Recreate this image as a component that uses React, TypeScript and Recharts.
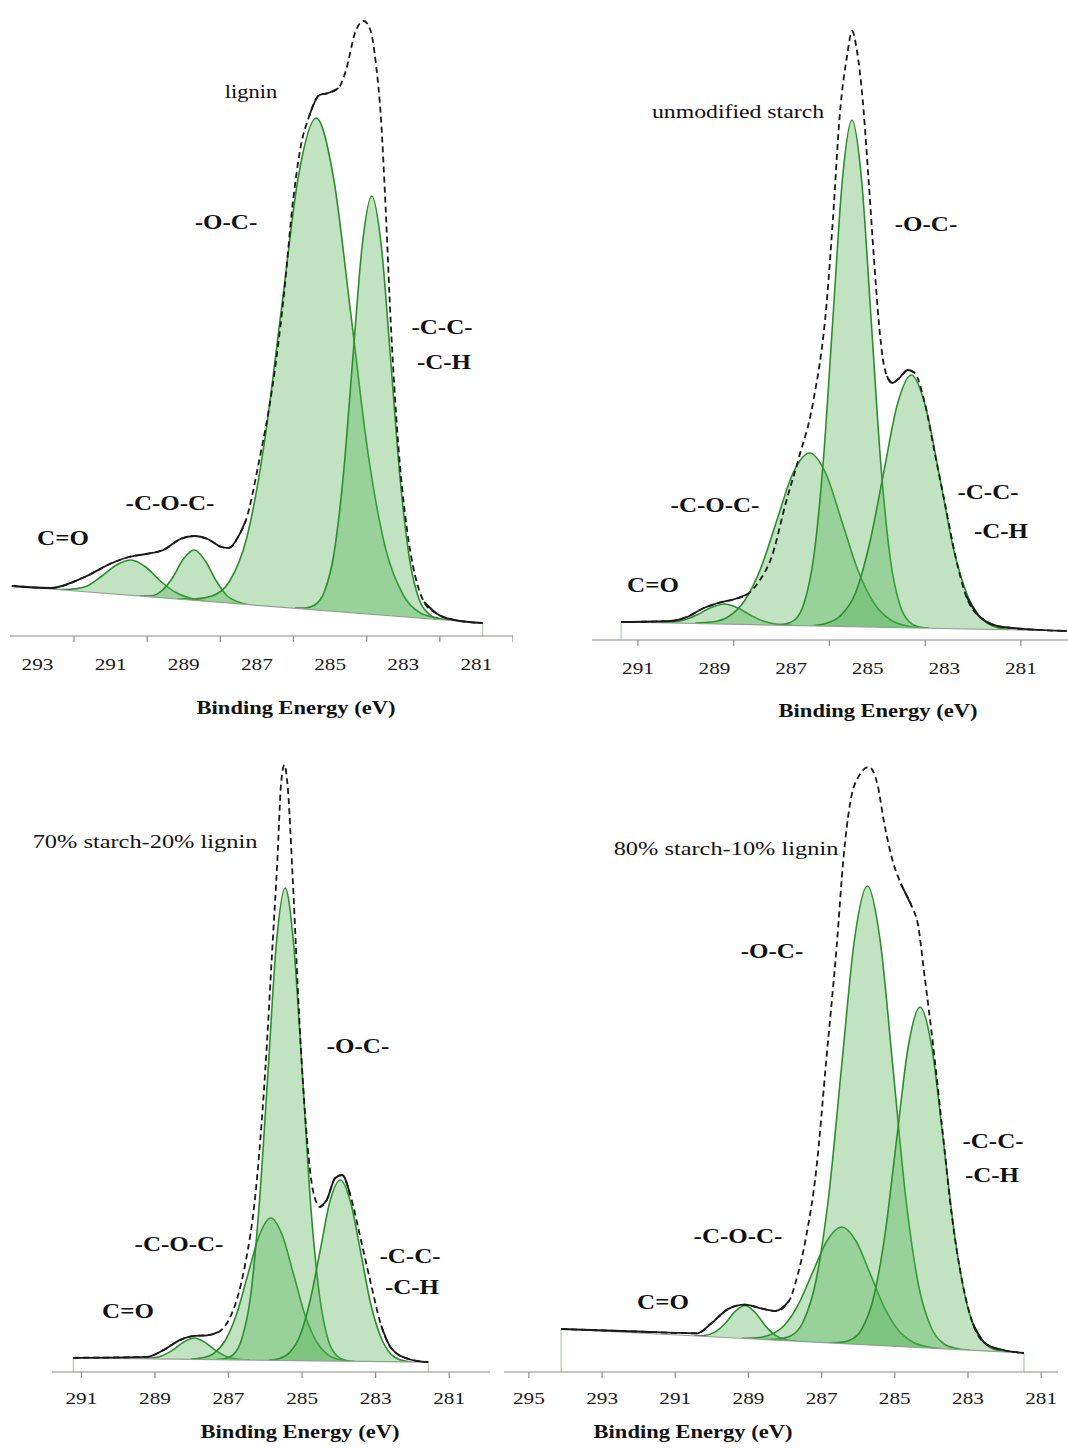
import React from "react";
import { ComposedChart, Area, Line, XAxis, YAxis, ReferenceLine } from "recharts";

// [binding energy (eV), intensity (a.u.)]
type Pt = [number, number];

const FILL = "#4caf50";
const EDGE = "#2a8f2a";
const SERIF = '"Liberation Serif", "Times New Roman", serif';

// ---- lignin ----
const ligninEnvelope: Pt[] = [
  [293.7, 50], [292.64, 48], [291.71, 59], [290.96, 73], [290.5, 79], [290.03, 82], [289.56, 86],
  [289.09, 97], [288.71, 100], [288.35, 97], [287.97, 89], [287.77, 88], [287.5, 100], [287.3, 116],
  [286.94, 175], [286.56, 253], [286.28, 335], [286.01, 436], [285.82, 486], [285.57, 520], [285.29, 541],
  [285.05, 543], [284.77, 548], [284.58, 564], [284.3, 605], [284.08, 615], [283.89, 605], [283.75, 573],
  [283.61, 518], [283.48, 427], [283.34, 312], [283.15, 198], [282.9, 107], [282.68, 61], [282.43, 34],
  [282.07, 22], [281.6, 16], [280.83, 13],
];
const ligninOC: Pt[] = [
  [289.18, 37], [288.71, 37], [288.23, 40], [287.76, 54], [287.28, 98], [286.81, 190], [286.33, 327],
  [285.86, 461], [285.38, 518], [284.91, 459], [284.43, 321], [283.96, 182], [283.48, 87], [283.0, 41],
  [282.53, 23], [282.06, 18], [281.58, 15],
];
const ligninCC: Pt[] = [
  [285.96, 28], [285.68, 28], [285.42, 31], [285.16, 44], [284.9, 81], [284.64, 160], [284.38, 277],
  [284.12, 391], [283.86, 440], [283.6, 390], [283.34, 274], [283.08, 155], [282.82, 75], [282.56, 36],
  [282.3, 22], [282.04, 17], [281.76, 16],
];
const ligninCOC: Pt[] = [
  [290.21, 40], [289.91, 40], [289.61, 45], [289.31, 58], [289.01, 77], [288.71, 86], [288.41, 75],
  [288.11, 55], [287.81, 40], [287.51, 34], [287.21, 31],
];
const ligninCO: Pt[] = [
  [292.44, 46.5], [292.04, 47], [291.64, 50], [291.24, 60], [290.84, 71], [290.44, 76], [290.04, 69],
  [289.64, 55], [289.24, 44], [288.84, 38], [288.44, 35],
];
const ligninBase: Pt[] = [[293.7, 50], [280.83, 13]];
const ligninSolid: Pt[] = [[293.7, 287.3], [285.6, 284.75], [282.5, 280.8]];

// ---- unmodified starch ----
const starchEnvelope: Pt[] = [
  [291.44, 18], [290.16, 19], [289.72, 23], [289.28, 32], [288.91, 37], [288.47, 41], [288.13, 46],
  [287.87, 57], [287.5, 84], [287.14, 137], [286.8, 182], [286.43, 237], [286.07, 338], [285.91, 420],
  [285.73, 525], [285.54, 584], [285.41, 609], [285.28, 589], [285.15, 548], [284.97, 456], [284.84, 383],
  [284.71, 318], [284.6, 280], [284.5, 264], [284.36, 257], [284.2, 261], [283.95, 270], [283.77, 267],
  [283.51, 237], [283.25, 187], [282.96, 132], [282.7, 82], [282.44, 45], [282.07, 23], [281.47, 13],
  [279.8, 9],
];
const starchOC: Pt[] = [
  [287.41, 15], [287.16, 16], [286.91, 20], [286.66, 37], [286.41, 83], [286.16, 179], [285.91, 321],
  [285.66, 461], [285.41, 520], [285.16, 460], [284.91, 320], [284.66, 177], [284.41, 81], [284.16, 35],
  [283.91, 18], [283.66, 13], [283.41, 12],
];
const starchCOC: Pt[] = [
  [289.5, 17], [289.07, 18], [288.65, 23], [288.22, 39], [287.8, 71], [287.37, 120], [286.95, 167],
  [286.52, 187], [286.1, 167], [285.67, 118], [285.25, 69], [284.82, 36], [284.4, 20], [283.97, 14],
  [283.55, 12],
];
const starchCC: Pt[] = [
  [286.42, 14.5], [286.05, 17], [285.69, 25], [285.32, 47], [284.96, 95], [284.59, 166], [284.23, 235],
  [283.86, 265], [283.5, 235], [283.13, 165], [282.77, 93], [282.4, 45], [282.04, 22], [281.67, 13],
  [281.31, 10.5],
];
const starchCO: Pt[] = [
  [290.49, 17.3], [290.14, 17.8], [289.79, 20], [289.44, 25.4], [289.09, 32.5], [288.74, 36], [288.39, 32],
  [288.04, 24.4], [287.69, 18.4], [287.34, 15.6], [286.99, 14.6],
];
const starchBase: Pt[] = [[291.44, 18], [279.8, 9]];
const starchSolid: Pt[] = [[291.44, 287.95], [284.55, 283.7], [282.6, 279.8]];

// ---- 70% starch-20% lignin ----
const s70Envelope: Pt[] = [
  [291.22, 14.2], [289.23, 15.1], [288.77, 21.9], [288.31, 32.2], [287.93, 36.2], [287.58, 36.7],
  [287.28, 39.8], [287.01, 51], [286.73, 78], [286.54, 109], [286.27, 177], [286.0, 302], [285.81, 423],
  [285.67, 513], [285.57, 589], [285.48, 607], [285.4, 589], [285.25, 490], [285.08, 356], [284.89, 244],
  [284.7, 181], [284.51, 165], [284.33, 172], [284.1, 194], [283.91, 197], [283.69, 177], [283.4, 132],
  [283.12, 87], [282.85, 46.5], [282.58, 24], [282.11, 13], [281.57, 9.8],
];
const s70OC: Pt[] = [
  [287.34, 12.4], [287.11, 13.3], [286.87, 17.4], [286.64, 33], [286.4, 76], [286.17, 165], [285.93, 298],
  [285.7, 428], [285.46, 484], [285.23, 428], [284.99, 297], [284.76, 164], [284.52, 75], [284.29, 32],
  [284.05, 16], [283.82, 11.8], [283.58, 10.7],
];
const s70COC: Pt[] = [
  [288.02, 13], [287.71, 14.2], [287.4, 18.7], [287.09, 31.5], [286.78, 58], [286.47, 98], [286.16, 137],
  [285.85, 154], [285.54, 137], [285.23, 97.5], [284.92, 57], [284.61, 30.4], [284.3, 17.2], [283.99, 12.5],
  [283.68, 11],
];
const s70CC: Pt[] = [
  [285.89, 12], [285.61, 13.6], [285.34, 19.5], [285.06, 36], [284.79, 70], [284.51, 121], [284.24, 171],
  [283.96, 192], [283.69, 171], [283.41, 120.5], [283.14, 69], [282.86, 35], [282.59, 18], [282.31, 12],
  [282.04, 10],
];
const s70CO: Pt[] = [
  [289.43, 13.4], [289.13, 13.9], [288.83, 15.9], [288.53, 21.6], [288.23, 29.7], [287.93, 34], [287.63, 29.4],
  [287.33, 21.1], [287.03, 15.1], [286.73, 12.8], [286.43, 12.1],
];
const s70Base: Pt[] = [[291.22, 14.2], [281.57, 9.8]];
const s70Solid: Pt[] = [[291.22, 287.1], [284.6, 283.6], [283.0, 281.57]];

// ---- 80% starch-10% lignin ----
const s80Envelope: Pt[] = [
  [294.12, 43], [292.07, 40.5], [290.4, 38.7], [290.02, 48.5], [289.56, 62.9], [289.09, 67.4], [288.72, 64.2],
  [288.26, 61], [287.89, 71], [287.7, 91], [287.43, 134], [287.15, 201], [286.87, 313], [286.59, 425],
  [286.4, 515], [286.22, 569], [285.98, 596], [285.71, 605], [285.47, 587], [285.3, 551], [285.05, 510],
  [284.83, 488], [284.54, 466], [284.37, 448], [284.18, 394], [283.98, 335], [283.71, 246], [283.44, 156],
  [283.15, 89], [282.87, 48.5], [282.51, 28], [282.04, 22], [281.47, 19],
];
const s80OC: Pt[] = [
  [288.55, 32.4], [288.2, 33], [287.85, 36], [287.5, 50.5], [287.15, 92], [286.8, 178], [286.45, 307],
  [286.1, 433], [285.75, 486], [285.4, 431.5], [285.05, 304], [284.7, 174], [284.35, 86.5], [284.0, 44],
  [283.65, 28], [283.3, 23.5], [282.95, 21.8],
];
const s80CC: Pt[] = [
  [286.87, 29.2], [286.55, 29.4], [286.23, 31.8], [285.91, 42.4], [285.59, 73], [285.27, 137], [284.95, 232.6],
  [284.63, 326], [284.31, 365], [283.99, 325], [283.67, 230], [283.35, 133], [283.03, 68], [282.71, 36.4],
  [282.39, 24.5], [282.07, 20.8], [281.75, 19.5],
];
const s80COC: Pt[] = [
  [289.18, 33.6], [288.79, 34.2], [288.4, 37.2], [288.01, 47], [287.62, 68.7], [287.23, 101], [286.84, 132],
  [286.45, 145], [286.06, 131], [285.67, 98], [285.28, 64.2], [284.89, 41.3], [284.5, 29.8], [284.11, 25.3],
  [283.72, 23.3],
];
const s80CO: Pt[] = [
  [290.49, 36.1], [290.21, 36.5], [289.93, 39.6], [289.65, 48], [289.37, 60.4], [289.09, 66.5], [288.81, 59.3],
  [288.53, 45.9], [288.25, 36.4], [287.97, 32.2], [287.69, 30.8],
];
const s80Base: Pt[] = [[294.12, 43], [281.47, 19]];
const s80Solid: Pt[] = [[294.12, 287.85], [285.0, 284.5], [283.1, 281.47]];

// tick marks / labels per panel
const ligninMarks = [292, 290, 288, 286, 284, 282, 280];
const ligninLabels = [293, 291, 289, 287, 285, 283, 281];
const starchMarks = [291, 288.5, 286, 283.5, 281];
const starchLabels = [291, 289, 287, 285, 283, 281];
const s70Ticks = [291, 289, 287, 285, 283, 281];
const s80Ticks = [295, 293, 291, 289, 287, 285, 283, 281];

type Note = { text: string; x: number; y: number; bold?: boolean; size?: number };

type PanelCfg = {
  left: number;
  width: number;
  axisY: number;
  yMax: number;
  xDomain: [number, number];
  marks: number[];
  labels: number[];
  tickDy: number;
  envelope: Pt[];
  comps: Pt[][];
  base: Pt[];
  solid: Pt[];
  edges: boolean[]; // vertical green edge at [first, last] baseline point
};

const panels: PanelCfg[] = [
  {
    left: 10, width: 503, axisY: 636, yMax: 630, xDomain: [280, 293.75],
    marks: ligninMarks, labels: ligninLabels, tickDy: 34,
    envelope: ligninEnvelope, comps: [ligninCO, ligninCOC, ligninOC, ligninCC], base: ligninBase, solid: ligninSolid,
    edges: [false, true],
  },
  {
    left: 592, width: 476, axisY: 640, yMax: 630, xDomain: [279.77, 292.2],
    marks: starchMarks, labels: starchLabels, tickDy: 34,
    envelope: starchEnvelope, comps: [starchCO, starchCOC, starchOC, starchCC], base: starchBase, solid: starchSolid,
    edges: [true, false],
  },
  {
    left: 52, width: 438, axisY: 1372, yMax: 620, xDomain: [279.89, 291.8],
    marks: s70Ticks, labels: s70Ticks, tickDy: 32,
    envelope: s70Envelope, comps: [s70CO, s70COC, s70OC, s70CC], base: s70Base, solid: s70Solid,
    edges: [true, true],
  },
  {
    left: 504, width: 554, axisY: 1372, yMax: 620, xDomain: [280.54, 295.68],
    marks: s80Ticks, labels: s80Ticks, tickDy: 32,
    envelope: s80Envelope, comps: [s80CO, s80COC, s80OC, s80CC], base: s80Base, solid: s80Solid,
    edges: [true, true],
  },
];

const notes: Note[] = [
  { text: "lignin", x: 251, y: 92, size: 18 },
  { text: "-O-C-", x: 226, y: 222, bold: true },
  { text: "-C-C-", x: 442, y: 327, bold: true },
  { text: "-C-H", x: 444, y: 362, bold: true },
  { text: "-C-O-C-", x: 170, y: 503, bold: true },
  { text: "C=O", x: 63, y: 538, bold: true },

  { text: "unmodified starch", x: 738, y: 111, size: 19 },
  { text: "-O-C-", x: 926, y: 224, bold: true },
  { text: "-C-C-", x: 988, y: 492, bold: true },
  { text: "-C-H", x: 1001, y: 531, bold: true },
  { text: "-C-O-C-", x: 715, y: 505, bold: true },
  { text: "C=O", x: 653, y: 585, bold: true },

  { text: "70% starch-20% lignin", x: 145, y: 842, size: 19.5 },
  { text: "-O-C-", x: 358, y: 1046, bold: true },
  { text: "-C-O-C-", x: 179, y: 1244, bold: true },
  { text: "-C-C-", x: 410, y: 1256, bold: true },
  { text: "-C-H", x: 412, y: 1287, bold: true },
  { text: "C=O", x: 128, y: 1311, bold: true },

  { text: "80% starch-10% lignin", x: 726, y: 849, size: 19.5 },
  { text: "-O-C-", x: 772, y: 951, bold: true },
  { text: "-C-C-", x: 993, y: 1141, bold: true },
  { text: "-C-H", x: 992, y: 1175, bold: true },
  { text: "-C-O-C-", x: 738, y: 1236, bold: true },
  { text: "C=O", x: 663, y: 1302, bold: true },
];

const titles = [
  { x: 296, y: 708 },
  { x: 878, y: 711 },
  { x: 300, y: 1432 },
  { x: 693, y: 1432 },
];

const rows = (pts: Pt[]) => pts.map(([e, v]) => ({ e, v }));

function EnergyTick(props: any) {
  const { x, y, payload, marks, labels, dy } = props;
  const v = payload.value;
  return (
    <g>
      {marks.includes(v) && <line x1={x} x2={x} y1={y} y2={y + 6} stroke="#8a8a8a" strokeWidth={1.2} />}
      {labels.includes(v) && (
        <text
          transform={`translate(${x},${y + dy}) scale(1.25,1)`}
          textAnchor="middle"
          style={{ fontFamily: SERIF, fontSize: 17 }}
          fill="#1a1a1a"
        >
          {v}
        </text>
      )}
    </g>
  );
}

function Spectrum({ p }: { p: PanelCfg }) {
  const allTicks = Array.from(new Set([...p.marks, ...p.labels]));
  const solidRows = p.envelope.map(([e, v]) => ({
    e,
    v: p.solid.some(([a, b]) => e <= a + 1e-6 && e >= b - 1e-6) ? v : null,
  }));
  const ends = [p.base[0], p.base[p.base.length - 1]];
  return (
    <div style={{ position: "absolute", left: p.left, top: p.axisY - p.yMax }}>
      <ComposedChart width={p.width} height={p.yMax + 40} margin={{ top: 0, right: 0, bottom: 0, left: 0 }}>
        <XAxis
          dataKey="e"
          type="number"
          domain={p.xDomain}
          reversed
          allowDataOverflow
          ticks={allTicks}
          interval={0}
          height={40}
          tickSize={0}
          tickMargin={0}
          tickLine={false}
          axisLine={{ stroke: "#8a8a8a", strokeWidth: 1.2 }}
          tick={(t: any) => <EnergyTick {...t} marks={p.marks} labels={p.labels} dy={p.tickDy} />}
        />
        <YAxis hide domain={[0, p.yMax]} allowDataOverflow />
        {p.comps.map((c, i) => (
          <Area
            key={i}
            data={rows(c)}
            dataKey="v"
            type="monotone"
            fill={FILL}
            fillOpacity={0.35}
            stroke={EDGE}
            strokeWidth={1.6}
            isAnimationActive={false}
          />
        ))}
        <Area
          data={rows(p.base)}
          dataKey="v"
          type="linear"
          fill="#ffffff"
          fillOpacity={1}
          stroke="#9a9a9a"
          strokeWidth={1.2}
          isAnimationActive={false}
        />
        {ends.map(([e, v], i) =>
          p.edges[i] ? (
            <ReferenceLine key={i} segment={[{ x: e, y: 0 }, { x: e, y: v }]} stroke="#a8cfa8" strokeWidth={1.2} />
          ) : null
        )}
        <Line
          data={rows(p.envelope)}
          dataKey="v"
          type="monotone"
          stroke="#1a1a1a"
          strokeWidth={1.8}
          strokeDasharray="6 4"
          dot={false}
          isAnimationActive={false}
        />
        <Line
          data={solidRows}
          dataKey="v"
          type="monotone"
          stroke="#1a1a1a"
          strokeWidth={1.8}
          dot={false}
          connectNulls={false}
          isAnimationActive={false}
        />
      </ComposedChart>
    </div>
  );
}

export default function App() {
  return (
    <div
      style={{
        position: "absolute",
        left: 0,
        top: 0,
        width: 1068,
        height: 1448,
        background: "#fff",
        overflow: "hidden",
      }}
    >
      {panels.map((p, i) => (
        <Spectrum key={i} p={p} />
      ))}
      {notes.map((n, i) => (
        <div
          key={i}
          style={{
            position: "absolute",
            left: n.x,
            top: n.y,
            transform: "translate(-50%, -50%) scaleX(1.25)",
            fontFamily: SERIF,
            fontSize: n.size ?? 20,
            fontWeight: n.bold ? 700 : 400,
            color: "#111",
            whiteSpace: "nowrap",
            lineHeight: 1,
          }}
        >
          {n.text}
        </div>
      ))}
      {titles.map((t, i) => (
        <div
          key={i}
          style={{
            position: "absolute",
            left: t.x,
            top: t.y,
            transform: "translate(-50%, -50%) scaleX(1.25)",
            fontFamily: SERIF,
            fontSize: 18,
            fontWeight: 700,
            color: "#111",
            whiteSpace: "nowrap",
            lineHeight: 1,
          }}
        >
          Binding Energy (eV)
        </div>
      ))}
    </div>
  );
}
